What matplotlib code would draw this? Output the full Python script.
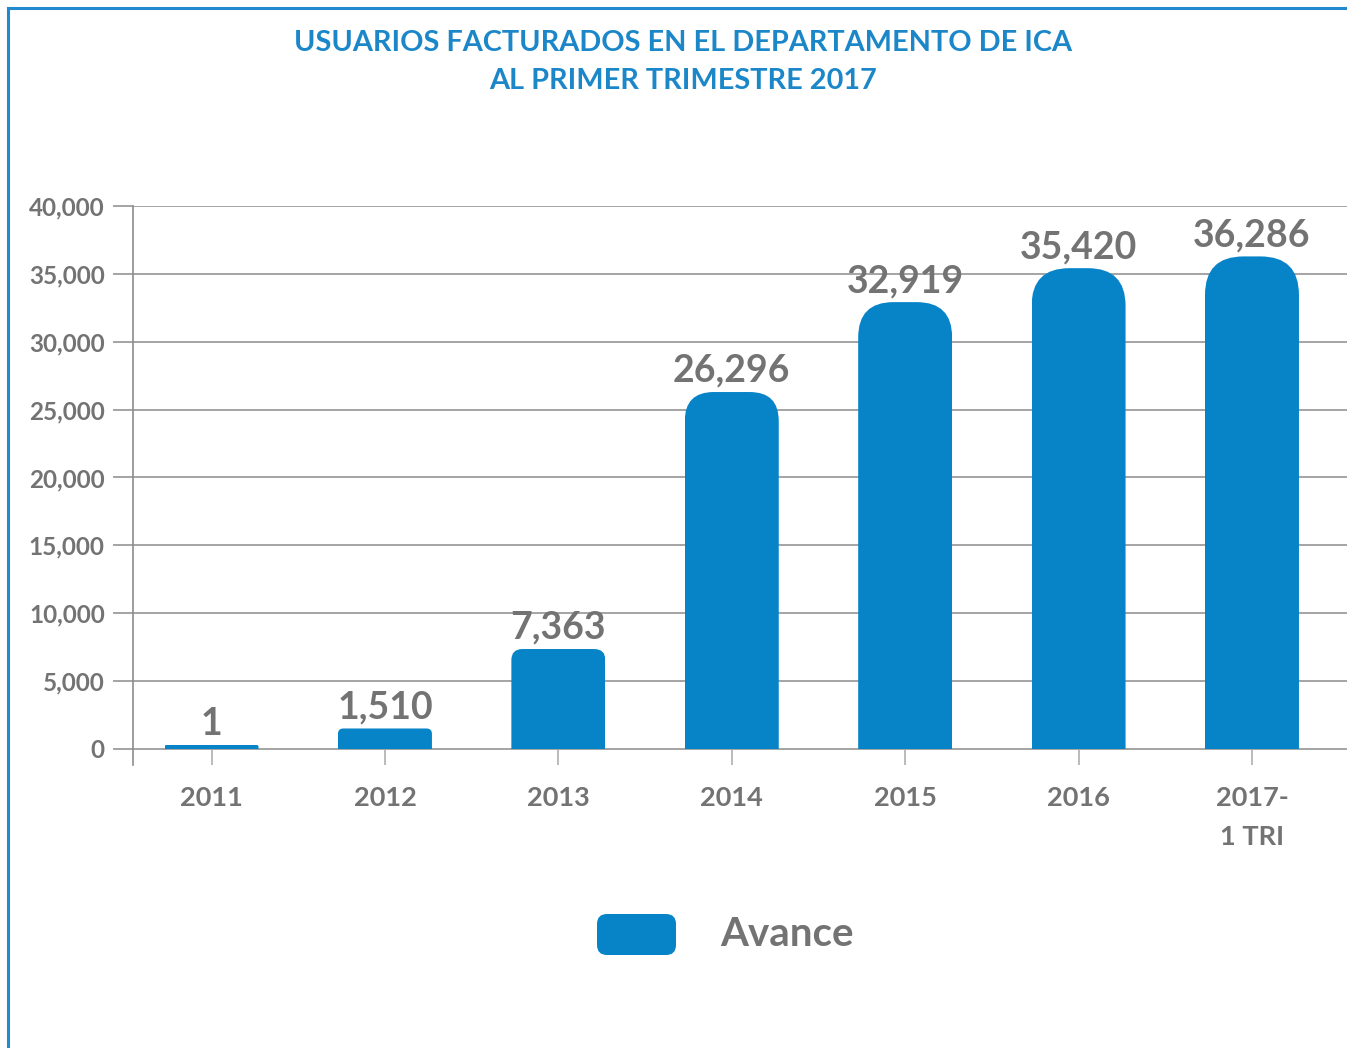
import matplotlib
matplotlib.use("Agg")
import matplotlib.pyplot as plt
from matplotlib.patches import FancyBboxPatch, Rectangle
from matplotlib.lines import Line2D

# data
years = ["2011", "2012", "2013", "2014", "2015", "2016", "2017-\n1 TRI"]
usuarios = [1, 1510, 7363, 26296, 32919, 35420, 36286]
yticks = [0, 5000, 10000, 15000, 20000, 25000, 30000, 35000, 40000]
serie = "Avance"
titulo = "USUARIOS FACTURADOS EN EL DEPARTAMENTO DE ICA\nAL PRIMER TRIMESTRE 2017"

BLUE = "#0784c8"
TITLE_BLUE = "#1b87c9"
GRAY = "#737373"
GRID = "#8c8c8c"
FONT = "Lato"

W, H = 1347, 1048
fig = plt.figure(figsize=(W / 100, H / 100), dpi=100)
fig.patch.set_facecolor("white")

# blue frame on top and left
fig.add_artist(Line2D([8 / W, 1], [1 - 8 / H, 1 - 8 / H], transform=fig.transFigure,
                      color="#2389cf", lw=2.2))
fig.add_artist(Line2D([8 / W, 8 / W], [0, 1 - 8 / H], transform=fig.transFigure,
                      color="#2389cf", lw=2.2))

fig.text(0.507, 0.971, titulo, ha="center", va="top", color=TITLE_BLUE,
         fontsize=20.8, fontweight="bold", family=FONT, linespacing=1.55)

ax = fig.add_axes([133 / W, (H - 765) / H, 1 - 133 / W, (765 - 206) / H])
ax.set_xlim(-0.453, 6.548)
ax.set_ylim(-1180, 40000)

x = list(range(len(years)))
bars = ax.bar(x, usuarios, width=0.542, color=BLUE)
for b in bars:
    b.set_visible(False)

fig.canvas.draw()
# pixel scale, used to make the rounded tops circular
px_x = ax.transData.transform((1, 0))[0] - ax.transData.transform((0, 0))[0]
px_y = (ax.transData.transform((0, 1000))[1] - ax.transData.transform((0, 0))[1]) / 1000.0
aspect = px_x / px_y

for b, v in zip(bars, usuarios):
    h = max(v, 300)  # keep very small bars visible
    h_px = h * px_y
    r_px = min(40, 4 + 0.07 * h_px, h_px / 2)
    r = r_px / px_x
    ry = r_px / px_y
    # rounded box reaching below zero, clipped at zero so only the top is round
    top = FancyBboxPatch((b.get_x(), -ry), b.get_width(), h + ry,
                         boxstyle=f"round,pad=0,rounding_size={r}",
                         mutation_aspect=aspect, fc=BLUE, ec="none", zorder=3)
    ax.add_patch(top)
    clip = Rectangle((b.get_x(), 0), b.get_width(), h, transform=ax.transData)
    top.set_clip_path(clip)
    ax.text(b.get_x() + b.get_width() / 2, h + 300, f"{v:,}", ha="center", va="bottom",
            fontsize=27, fontweight="bold", color=GRAY, family=FONT, zorder=4)

# axes styling
for s in ["top", "right", "bottom"]:
    ax.spines[s].set_visible(False)
ax.spines["left"].set_color(GRID)
ax.spines["left"].set_linewidth(1.2)

ax.set_yticks(yticks)
ax.set_yticklabels([f"{t:,}" for t in yticks])
ax.yaxis.grid(True, color=GRID, lw=1.1)
ax.set_axisbelow(True)
ax.tick_params(axis="y", length=14.4, width=1.1, color=GRID, pad=6,
               labelsize=17.5, labelcolor=GRAY)

ax.set_xticks(x)
ax.set_xticklabels(years, linespacing=1.74)
ax.tick_params(axis="x", direction="in", length=11, width=1.1, color="#a8a8a8",
               pad=15, labelsize=19.5, labelcolor=GRAY)
for lab in ax.get_xticklabels() + ax.get_yticklabels():
    lab.set_fontweight("bold")
    lab.set_family(FONT)
for lab in ax.get_xticklabels():
    lab.set_verticalalignment("top")

# legend
fig.patches.append(FancyBboxPatch((5.97, 0.93), 0.79, 0.41,
                                  boxstyle="round,pad=0,rounding_size=0.1",
                                  transform=fig.dpi_scale_trans, fc=BLUE, ec="none"))
fig.text(720 / W, (H - 934) / H, serie, ha="left", va="center", fontsize=29,
         fontweight="bold", color=GRAY, family=FONT)

fig.savefig("out.png", dpi=100, facecolor="white")
